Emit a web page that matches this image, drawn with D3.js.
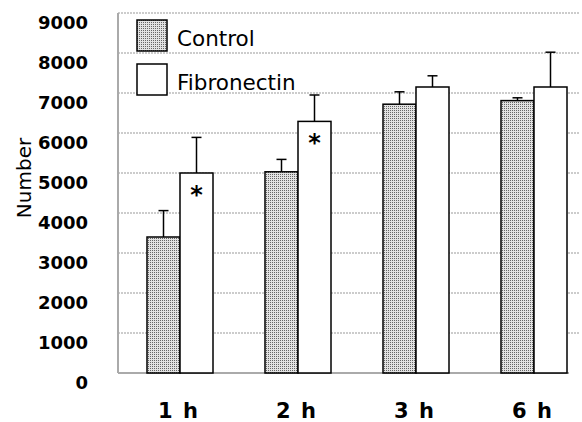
<!DOCTYPE html>
<html>
<head>
<meta charset="utf-8">
<script src="https://cdn.jsdelivr.net/npm/d3@7"></script>
<style>
body { margin: 0; background: #fff; }
svg { display: block; }
</style>
</head>
<body>
<svg width="582" height="422"></svg>
<script>
var times = ['1 h', '2 h', '3 h', '6 h'];
var seriesNames = ['Control', 'Fibronectin'];
var controlVals = [3400, 5030, 6720, 6810];
var controlErr = [660, 310, 310, 70];
var fibroVals = [5000, 6290, 7150, 7150];
var fibroErr = [890, 660, 280, 870];
var signif = [true, true, false, false];
var yTicks = [0, 1000, 2000, 3000, 4000, 5000, 6000, 7000, 8000, 9000];

var svg = d3.select('svg');

// stipple fill for control bars
var pat = svg.append('defs').append('pattern')
  .attr('id', 'dots')
  .attr('width', 2).attr('height', 2)
  .attr('patternUnits', 'userSpaceOnUse');
pat.append('rect').attr('width', 2).attr('height', 2).attr('fill', '#e2e2e2');
pat.append('rect').attr('width', 1).attr('height', 1).attr('fill', '#666');

var plotLeft = 118, plotRight = 580, plotTop = 13, plotBottom = 373;

var y = d3.scaleLinear().domain([0, 9000]).range([plotBottom, plotTop]);
var x0 = d3.scaleBand().domain(times).range([121, 593]);
var x1 = d3.scaleBand().domain(seriesNames).range([-33, 33]);

// gridlines
svg.append('g').selectAll('line')
  .data(yTicks.slice(1))
  .enter().append('line')
  .attr('x1', plotLeft).attr('x2', plotRight)
  .attr('y1', function(d) { return y(d); })
  .attr('y2', function(d) { return y(d); })
  .attr('stroke', '#999')
  .attr('stroke-width', 1)
  .attr('stroke-dasharray', '2,1');

// y axis labels
var yAxis = svg.append('g')
  .attr('transform', 'translate(' + plotLeft + ',0)')
  .call(d3.axisLeft(y).tickValues(yTicks).tickFormat(d3.format('d')).tickSize(0).tickPadding(30));
yAxis.select('.domain').remove();
yAxis.selectAll('text')
  .attr('dy', '0.32em')
  .attr('y', 10)
  .style('font-family', 'DejaVu Sans')
  .style('font-weight', 'bold')
  .style('font-size', '18px')
  .attr('fill', '#000');

svg.append('line')
  .attr('x1', plotLeft).attr('x2', plotLeft)
  .attr('y1', plotTop).attr('y2', plotBottom)
  .attr('stroke', '#aaa').attr('stroke-width', 2);
svg.append('line')
  .attr('x1', plotLeft).attr('x2', 569)
  .attr('y1', plotBottom).attr('y2', plotBottom)
  .attr('stroke', '#aaa').attr('stroke-width', 2);

var data = times.map(function(t, i) {
  return [
    {t: t, s: 'Control', v: controlVals[i], e: controlErr[i]},
    {t: t, s: 'Fibronectin', v: fibroVals[i], e: fibroErr[i], star: signif[i]}
  ];
});
var flat = [].concat.apply([], data);

var bx = function(d) { return x0(d.t) + x0.bandwidth() / 2 + x1(d.s); };

// error bars
var eb = svg.append('g').selectAll('g').data(flat).enter().append('g');
eb.append('line')
  .attr('x1', function(d) { return bx(d) + x1.bandwidth() / 2; })
  .attr('x2', function(d) { return bx(d) + x1.bandwidth() / 2; })
  .attr('y1', function(d) { return y(d.v); })
  .attr('y2', function(d) { return y(d.v + d.e); })
  .attr('stroke', '#000').attr('stroke-width', 1.5);
eb.append('line')
  .attr('x1', function(d) { return bx(d) + x1.bandwidth() / 2 - 5; })
  .attr('x2', function(d) { return bx(d) + x1.bandwidth() / 2 + 5; })
  .attr('y1', function(d) { return y(d.v + d.e); })
  .attr('y2', function(d) { return y(d.v + d.e); })
  .attr('stroke', '#000').attr('stroke-width', 1.5);

// bars
svg.append('g').selectAll('rect').data(flat).enter().append('rect')
  .attr('x', bx)
  .attr('y', function(d) { return y(d.v); })
  .attr('width', x1.bandwidth())
  .attr('height', function(d) { return y(0) - y(d.v); })
  .attr('fill', function(d) { return d.s == 'Control' ? 'url(#dots)' : '#fff'; })
  .attr('stroke', '#000')
  .attr('stroke-width', 1.5);

// significance marks
svg.append('g').selectAll('text').data(flat.filter(function(d) { return d.star; }))
  .enter().append('text')
  .attr('x', function(d) { return bx(d) + x1.bandwidth() / 2; })
  .attr('y', function(d) { return y(d.v) + 30; })
  .attr('text-anchor', 'middle')
  .style('font-family', 'DejaVu Sans')
  .style('font-weight', 'bold')
  .style('font-size', '24px')
  .text('*');

// x labels
svg.append('g').selectAll('text').data(times).enter().append('text')
  .attr('x', function(d) { return x0(d) + x0.bandwidth() / 2 - 2; })
  .attr('y', 418)
  .attr('text-anchor', 'middle')
  .style('font-family', 'DejaVu Sans')
  .style('font-weight', 'bold')
  .style('font-size', '21px')
  .style('word-spacing', '3px')
  .text(function(d) { return d; });

// y title
svg.append('text')
  .attr('transform', 'translate(31,178) rotate(-90)')
  .attr('text-anchor', 'middle')
  .style('font-family', 'DejaVu Sans')
  .style('font-size', '20px')
  .text('Number');

// legend
var leg = svg.append('g').selectAll('g').data(seriesNames).enter().append('g')
  .attr('transform', function(d, i) { return 'translate(137,' + (20 + i * 44) + ')'; });
leg.append('rect')
  .attr('width', 30).attr('height', 31)
  .attr('fill', function(d) { return d == 'Control' ? 'url(#dots)' : '#fff'; })
  .attr('stroke', '#000').attr('stroke-width', 1.5);
leg.append('text')
  .attr('x', 40).attr('y', 26)
  .style('font-family', 'DejaVu Sans')
  .style('font-size', '21.5px')
  .text(function(d) { return d; });
</script>
</body>
</html>
